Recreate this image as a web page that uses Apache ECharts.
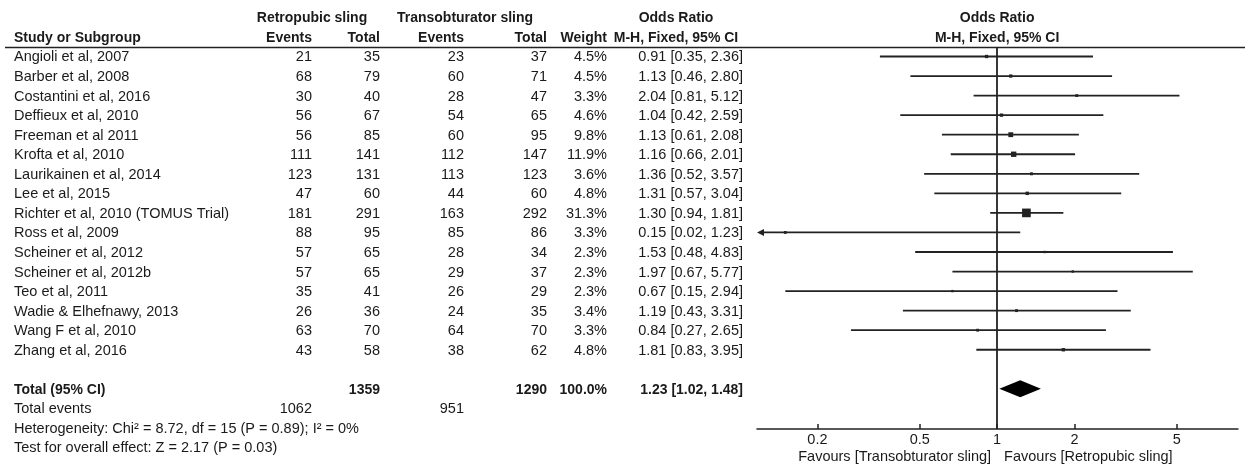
<!DOCTYPE html>
<html>
<head>
<meta charset="utf-8">
<script src="https://cdn.jsdelivr.net/npm/echarts@6/dist/echarts.min.js"></script>
<style>
html,body{margin:0;padding:0;background:#fff;}
#chart{width:1245px;height:467px;}
</style>
</head>
<body>
<div id="chart"></div>
<script>
// ---------- DATA ----------
const studies = ['Angioli et al, 2007','Barber et al, 2008','Costantini et al, 2016','Deffieux et al, 2010','Freeman et al 2011','Krofta et al, 2010','Laurikainen et al, 2014','Lee et al, 2015','Richter et al, 2010 (TOMUS Trial)','Ross et al, 2009','Scheiner et al, 2012','Scheiner et al, 2012b','Teo et al, 2011','Wadie & Elhefnawy, 2013','Wang F et al, 2010','Zhang et al, 2016'];
const retroEvents = [21,68,30,56,56,111,123,47,181,88,57,57,35,26,63,43];
const retroTotal  = [35,79,40,67,85,141,131,60,291,95,65,65,41,36,70,58];
const transEvents = [23,60,28,54,60,112,113,44,163,85,28,29,26,24,64,38];
const transTotal  = [37,71,47,65,95,147,123,60,292,86,34,37,29,35,70,62];
const weights     = [4.5,4.5,3.3,4.6,9.8,11.9,3.6,4.8,31.3,3.3,2.3,2.3,2.3,3.4,3.3,4.8];
const orValues    = [0.91,1.13,2.04,1.04,1.13,1.16,1.36,1.31,1.30,0.15,1.53,1.97,0.67,1.19,0.84,1.81];
const ciLower     = [0.35,0.46,0.81,0.42,0.61,0.66,0.52,0.57,0.94,0.02,0.48,0.67,0.15,0.43,0.27,0.83];
const ciUpper     = [2.36,2.80,5.12,2.59,2.08,2.01,3.57,3.04,1.81,1.23,4.83,5.77,2.94,3.31,2.65,3.95];
const totalOR = [1.23, 1.02, 1.48];          // estimate, lower, upper
const totalN = [1359, 1290];                  // retropubic total, transobturator total
const totalWeight = '100.0%';
const totalEvents = [1062, 951];
const heterogeneityText = 'Heterogeneity: Chi² = 8.72, df = 15 (P = 0.89); I² = 0%';
const overallEffectText = 'Test for overall effect: Z = 2.17 (P = 0.03)';
const tickValues = [0.2, 0.5, 1, 2, 5];
const favoursLeft = 'Favours [Transobturator sling]';
const favoursRight = 'Favours [Retropubic sling]';

// ---------- LAYOUT ----------
const FONT = "'Liberation Sans', Arial, Helvetica, sans-serif";
const TXT = '#1a1a1a';
const INK = '#222';
const FS = 14.5;      // normal text
const FSB = 14;       // bold text
const axisMinOR = 0.1164, axisMaxOR = 8.65;
const L = v => Math.log10(v);
const COL = { name: 14, ev1: 312, tot1: 380, ev2: 464, tot2: 547, wt: 607, or: 743 };
const fmtOR = (o, lo, hi) => o.toFixed(2) + ' [' + lo.toFixed(2) + ', ' + hi.toFixed(2) + ']';

// table rows built from the arrays
const tableRows = [];
studies.forEach((s, i) => {
  tableRows.push({ row: i, bold: false, cells: [
    { x: COL.name, t: s, a: 'left' },
    { x: COL.ev1, t: String(retroEvents[i]), a: 'right' },
    { x: COL.tot1, t: String(retroTotal[i]), a: 'right' },
    { x: COL.ev2, t: String(transEvents[i]), a: 'right' },
    { x: COL.tot2, t: String(transTotal[i]), a: 'right' },
    { x: COL.wt, t: weights[i].toFixed(1) + '%', a: 'right' },
    { x: COL.or, t: fmtOR(orValues[i], ciLower[i], ciUpper[i]), a: 'right' }
  ]});
});
const totalRowIdx = studies.length + 1;
tableRows.push({ row: totalRowIdx, bold: true, cells: [
  { x: COL.name, t: 'Total (95% CI)', a: 'left' },
  { x: COL.tot1, t: String(totalN[0]), a: 'right' },
  { x: COL.tot2, t: String(totalN[1]), a: 'right' },
  { x: COL.wt, t: totalWeight, a: 'right' },
  { x: COL.or, t: fmtOR(totalOR[0], totalOR[1], totalOR[2]), a: 'right' }
]});
tableRows.push({ row: totalRowIdx + 1, bold: false, cells: [
  { x: COL.name, t: 'Total events', a: 'left' },
  { x: COL.ev1, t: String(totalEvents[0]), a: 'right' },
  { x: COL.ev2, t: String(totalEvents[1]), a: 'right' }
]});
tableRows.push({ row: totalRowIdx + 2, bold: false, cells: [{ x: COL.name, t: heterogeneityText, a: 'left' }]});
tableRows.push({ row: totalRowIdx + 3, bold: false, cells: [{ x: COL.name, t: overallEffectText, a: 'left' }]});

const chart = echarts.init(document.getElementById('chart'), null, { renderer: 'canvas' });

const ROW0 = -0.46;
const gridTop = 47.5;
const rowH = 19.55;
const forestBottomPx = 429;
const forestMaxRow = (forestBottomPx - gridTop) / rowH + ROW0;
const tableMaxRow = (467 - gridTop) / rowH + ROW0;
const TEXT_DY = 1;

function textEl(x, y, t, align, bold) {
  return { type: 'text', style: { x: x, y: y + TEXT_DY, text: t, fill: TXT, font: bold ? ('bold ' + FSB + 'px ' + FONT) : (FS + 'px ' + FONT), align: align, verticalAlign: 'middle' } };
}

const option = {
  animation: false,
  backgroundColor: '#fff',
  grid: [
    { left: 0, width: 757, top: gridTop, height: 467 - gridTop, containLabel: false },
    { left: 757, right: 7, top: gridTop, height: forestBottomPx - gridTop, containLabel: false }
  ],
  xAxis: [
    { gridIndex: 0, type: 'value', min: 0, max: 757, show: false },
    { gridIndex: 1, type: 'value', position: 'bottom', min: L(axisMinOR), max: L(axisMaxOR),
      axisLine: { show: true, onZero: false, lineStyle: { color: INK, width: 1.5 } },
      axisTick: { show: true, inside: true, length: 5, lineStyle: { color: INK, width: 1.5 }, customValues: tickValues.map(L) },
      axisLabel: { show: true, color: TXT, fontFamily: FONT, fontSize: FS, margin: 3, customValues: tickValues.map(L),
        formatter: v => String(parseFloat(Math.pow(10, v).toPrecision(2))) },
      splitLine: { show: false } }
  ],
  yAxis: [
    { gridIndex: 0, type: 'value', inverse: true, min: ROW0, max: tableMaxRow, show: false },
    { gridIndex: 1, type: 'value', inverse: true, min: ROW0, max: forestMaxRow, show: false }
  ],
  series: [
    {
      type: 'custom', xAxisIndex: 0, yAxisIndex: 0, clip: false,
      data: tableRows.map(r => [0, r.row]),
      encode: { x: 0, y: 1 },
      renderItem: function (params, api) {
        const r = tableRows[params.dataIndex];
        const y = api.coord([0, r.row])[1];
        return { type: 'group', children: r.cells.map(c => textEl(api.coord([c.x, r.row])[0], y, c.t, c.a, r.bold)) };
      }
    },
    {
      type: 'custom', xAxisIndex: 1, yAxisIndex: 1, clip: false,
      data: studies.map((s, i) => [L(orValues[i]), i, L(ciLower[i]), L(ciUpper[i]), weights[i]]),
      encode: { x: [0, 2, 3], y: 1 },
      renderItem: function (params, api) {
        const row = api.value(1);
        const c = api.coord([api.value(0), row]);
        const xMinPx = api.coord([L(axisMinOR), row])[0];
        const xMaxPx = api.coord([L(axisMaxOR), row])[0];
        let x1 = api.coord([api.value(2), row])[0];
        let x2 = api.coord([api.value(3), row])[0];
        const children = [];
        const clipL = x1 < xMinPx, clipR = x2 > xMaxPx;
        x1 = Math.max(x1, xMinPx); x2 = Math.min(x2, xMaxPx);
        children.push({ type: 'line', shape: { x1: clipL ? x1 + 4 : x1, y1: c[1], x2: x2, y2: c[1] }, style: { stroke: INK, lineWidth: 1.8 } });
        if (clipL) children.push({ type: 'polygon', shape: { points: [[x1, c[1]], [x1 + 7, c[1] - 3.5], [x1 + 7, c[1] + 3.5]] }, style: { fill: INK } });
        if (clipR) children.push({ type: 'polygon', shape: { points: [[x2, c[1]], [x2 - 7, c[1] - 3.5], [x2 - 7, c[1] + 3.5]] }, style: { fill: INK } });
        const side = 1.55 * Math.sqrt(api.value(4));
        children.push({ type: 'rect', shape: { x: c[0] - side / 2, y: c[1] - side / 2, width: side, height: side }, style: { fill: INK } });
        return { type: 'group', children: children };
      },
      markLine: {
        silent: true, symbol: 'none', animation: false,
        label: { show: false },
        lineStyle: { color: INK, width: 1.8, type: 'solid' },
        data: [{ xAxis: 0 }]
      }
    },
    {
      type: 'custom', xAxisIndex: 1, yAxisIndex: 1, clip: false,
      data: [[L(totalOR[0]), totalRowIdx, L(totalOR[1]), L(totalOR[2])]],
      encode: { x: [0, 2, 3], y: 1 },
      renderItem: function (params, api) {
        const row = api.value(1);
        const c = api.coord([api.value(0), row]);
        const lo = api.coord([api.value(2), row])[0];
        const hi = api.coord([api.value(3), row])[0];
        return { type: 'polygon', shape: { points: [[lo, c[1]], [c[0], c[1] - 8.5], [hi, c[1]], [c[0], c[1] + 8.5]] }, style: { fill: '#000' } };
      }
    }
  ]
};
chart.setOption(option);

// headers and favour labels
const xOne = chart.convertToPixel({ xAxisIndex: 1 }, 0);
const hdrBold = 'bold ' + FSB + 'px ' + FONT;
const norm = FS + 'px ' + FONT;
function gtext(x, y, t, align, font) {
  return { type: 'text', silent: true, style: { x: x, y: y, text: t, fill: TXT, font: font, textAlign: align, textVerticalAlign: 'middle', align: align, verticalAlign: 'middle' } };
}
chart.setOption({
  graphic: [
    gtext(312, 18, 'Retropubic sling', 'center', hdrBold),
    gtext(465, 18, 'Transobturator sling', 'center', hdrBold),
    gtext(676, 18, 'Odds Ratio', 'center', hdrBold),
    gtext(xOne, 18, 'Odds Ratio', 'center', hdrBold),
    gtext(COL.name, 38.5, 'Study or Subgroup', 'left', hdrBold),
    gtext(COL.ev1, 38.5, 'Events', 'right', hdrBold),
    gtext(COL.tot1, 38.5, 'Total', 'right', hdrBold),
    gtext(COL.ev2, 38.5, 'Events', 'right', hdrBold),
    gtext(COL.tot2, 38.5, 'Total', 'right', hdrBold),
    gtext(COL.wt, 38.5, 'Weight', 'right', hdrBold),
    gtext(676, 38.5, 'M-H, Fixed, 95% CI', 'center', hdrBold),
    gtext(xOne, 38.5, 'M-H, Fixed, 95% CI', 'center', hdrBold),
    { type: 'line', silent: true, shape: { x1: 5, y1: gridTop, x2: 1245, y2: gridTop }, style: { stroke: INK, lineWidth: 1.5 } },
    gtext(xOne - 6, 457, favoursLeft, 'right', norm),
    gtext(xOne + 7, 457, favoursRight, 'left', norm)
  ]
});
</script>
</body>
</html>
